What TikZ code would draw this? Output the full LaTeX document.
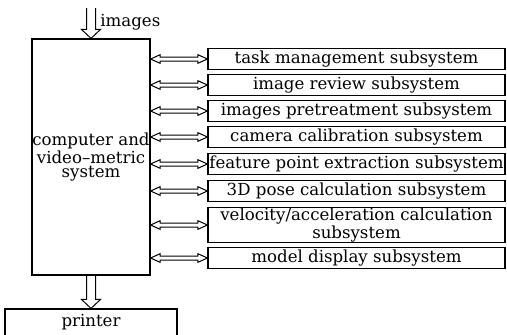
\documentclass[tikz,border=0pt]{standalone}
\usepackage{fontspec}
\setmainfont{DejaVu Serif}
\usetikzlibrary{calc}

% hollow block arrows
\newcommand{\downblock}[2]{%
  \draw[blockline] ($(#1)+(-4.5,0)$) -- ($(#2)+(-4.5,-9)$) -- ($(#2)+(-9.5,-9)$) -- (#2)
    -- ($(#2)+(9.5,-9)$) -- ($(#2)+(4.5,-9)$) -- ($(#1)+(4.5,0)$);}
\newcommand{\dualblock}[2]{%
  \draw[blockline] (#1) -- ($(#1)+(9.5,-4.3)$) -- ($(#1)+(9.5,-2)$) -- ($(#2)+(-9.5,-2)$)
    -- ($(#2)+(-9.5,-4.3)$) -- (#2) -- ($(#2)+(-9.5,4.3)$) -- ($(#2)+(-9.5,2)$)
    -- ($(#1)+(9.5,2)$) -- ($(#1)+(9.5,4.3)$) -- cycle;}

\begin{document}
\begin{tikzpicture}[x=0.5pt,y=-0.5pt,line join=miter,
  box/.style={draw,line width=0.6pt,inner sep=0pt,align=center,font=\fontsize{8.3}{7.1}\selectfont},
  blockline/.style={line width=0.5pt},
  txt/.style={inner sep=0pt,font=\fontsize{8.3}{7.1}\selectfont}]
	\useasboundingbox (0,0) rectangle (507,334);
	\clip (0,0) rectangle (507,334);
	\node[box,minimum width=59pt,minimum height=118pt] (main) at (91,157) {computer and\\video--metric\\system};
	\node[box,minimum width=86pt,minimum height=13.5pt] (printer) at (91,322.5) {printer};
	\coordinate (imgin) at (91,8);
	\node[txt,anchor=base west] (imglabel) at (100,26.5) {images};
	\downblock{imgin}{main.north}
	\downblock{main.south}{printer.north}
	\foreach \i/\y/\h/\txt in {1/59/10.5pt/task management subsystem,
	                           2/85/10.5pt/image review subsystem,
	                           3/111/10.5pt/images pretreatment subsystem,
	                           4/137/10.5pt/camera calibration subsystem,
	                           5/164/10.5pt/feature point extraction subsystem,
	                           6/191/10.5pt/3D pose calculation subsystem,
	                           7/225/17.5pt/{velocity/acceleration calculation\\subsystem},
	                           8/258/10.5pt/model display subsystem}
	{
	\node[box,minimum width=148.5pt,minimum height=\h] (s\i) at (356.5,\y) {\txt};
	\coordinate (l\i) at (main.east |- s\i.west);
	\dualblock{l\i}{s\i.west}
	}
\end{tikzpicture}
\end{document}
